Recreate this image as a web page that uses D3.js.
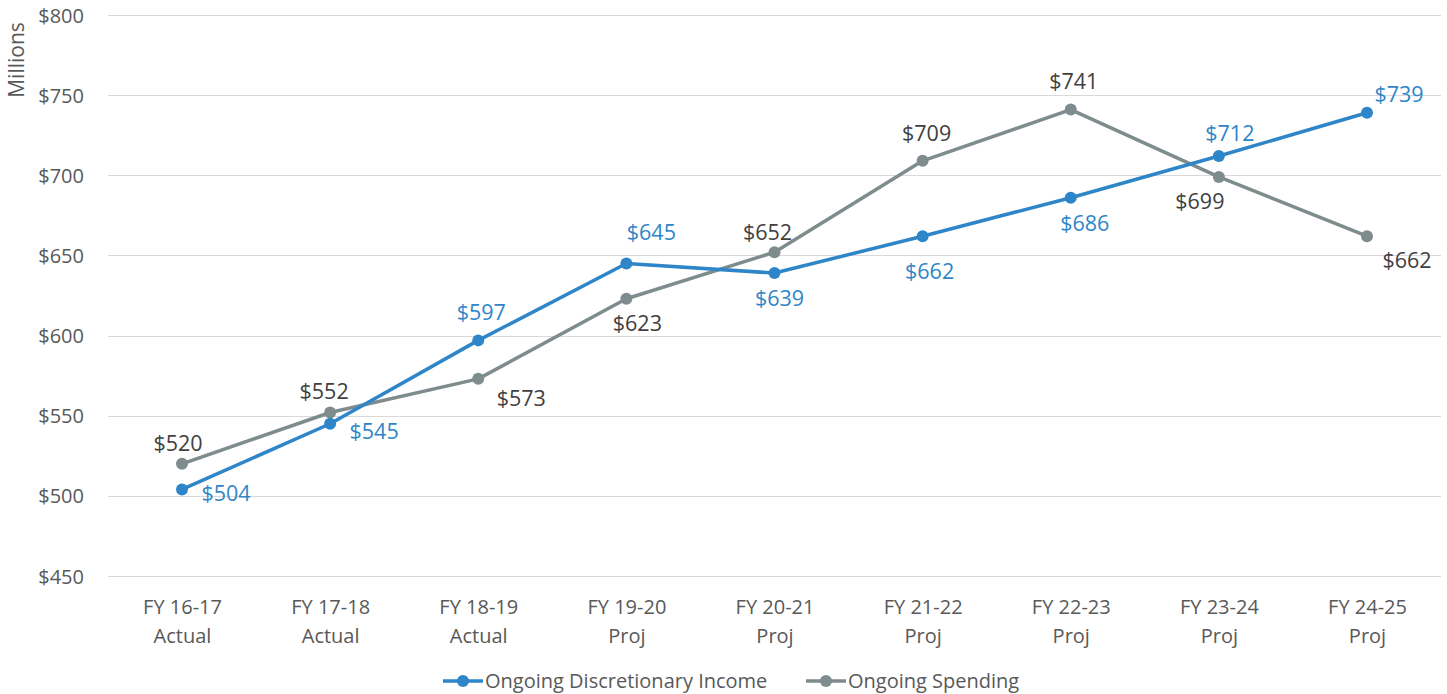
<!DOCTYPE html>
<html>
<head>
<meta charset="utf-8">
<script src="https://cdn.jsdelivr.net/npm/d3@7"></script>
<style>
  html, body { margin: 0; padding: 0; background: #fff; }
  svg { display: block; font-family: "Open Sans", "Noto Sans", sans-serif; }
</style>
</head>
<body>
<svg id="chart" width="1447" height="694"></svg>
<script>
// ---- data ----
const categories = ["FY 16-17|Actual", "FY 17-18|Actual", "FY 18-19|Actual", "FY 19-20|Proj", "FY 20-21|Proj", "FY 21-22|Proj", "FY 22-23|Proj", "FY 23-24|Proj", "FY 24-25|Proj"];
const incomeValues = [504, 545, 597, 645, 639, 662, 686, 712, 739];
const spendingValues = [520, 552, 573, 623, 652, 709, 741, 699, 662];
const yTicks = [450, 500, 550, 600, 650, 700, 750, 800];
const seriesNames = ["Ongoing Discretionary Income", "Ongoing Spending"];

// label offsets (placement style, px from point)
const incomeLabelOffsets = [[44,4],[44,8],[3,-28],[25,-31],[5,25],[7,35],[14,26],[11,-23],[32,-18]];
const spendingLabelOffsets = [[-4,-20],[-6,-21],[43,20],[11,25],[-7,-20],[4,-27],[3,-28],[-19,25],[40,24]];

const colors = ["#2E86C9", "#7F8C8D"];
const labelColors = ["#2E86C9", "#404040"];

const svg = d3.select("#chart");

const x = d3.scalePoint().domain(categories).range([182, 1367]);
const y = d3.scaleLinear().domain([450, 800]).range([576, 15]);

// gridlines
svg.append("g").selectAll("line").data(yTicks).join("line")
  .attr("x1", 108).attr("x2", 1441)
  .attr("y1", d => Math.round(y(d)) + 0.5).attr("y2", d => Math.round(y(d)) + 0.5)
  .attr("stroke", "#d9d9d9").attr("stroke-width", 1);

// y axis labels
const yAxis = d3.axisLeft(y).tickValues(yTicks).tickSize(0).tickPadding(0).tickFormat(d => "$" + d);
const yg = svg.append("g").attr("transform", "translate(84,0)").call(yAxis);
yg.attr("font-family", null).attr("font-size", null);
yg.select(".domain").remove();
yg.selectAll("text").attr("fill", "#595959").style("font-size", "20px").attr("dy", "0.35em");

// y title
svg.append("text")
  .attr("transform", "translate(24,60) rotate(-90)")
  .attr("text-anchor", "middle")
  .attr("fill", "#595959").style("font-size", "21px")
  .text("Millions");

// x axis labels
const xAxis = d3.axisBottom(x).tickSize(0).tickPadding(0).tickFormat(() => "");
const xg = svg.append("g").attr("transform", "translate(0,576)").call(xAxis);
xg.attr("font-family", null).attr("font-size", null);
xg.select(".domain").remove();
xg.selectAll(".tick").each(function(d) {
  const parts = d.split("|");
  const t = d3.select(this).append("text").attr("fill", "#595959").attr("text-anchor", "middle").style("font-size", "20px");
  t.append("tspan").attr("x", 0).attr("y", 38).text(parts[0]);
  t.append("tspan").attr("x", 0).attr("y", 67).text(parts[1]);
});

// series
const series = [
  { name: seriesNames[0], values: incomeValues, offsets: incomeLabelOffsets },
  { name: seriesNames[1], values: spendingValues, offsets: spendingLabelOffsets }
];
const line = d3.line().x((d, i) => x(categories[i])).y(d => y(d));

[1, 0].forEach(si => {
  const s = series[si];
  const g = svg.append("g");
  g.append("path").attr("d", line(s.values)).attr("fill", "none")
    .attr("stroke", colors[si]).attr("stroke-width", 3.5).attr("stroke-linejoin", "round");
  g.selectAll("circle").data(s.values).join("circle")
    .attr("cx", (d, i) => x(categories[i])).attr("cy", d => y(d)).attr("r", 6)
    .attr("fill", colors[si]);
});
[1, 0].forEach(si => {
  const s = series[si];
  svg.append("g").selectAll("text").data(s.values).join("text")
    .attr("x", (d, i) => x(categories[i]) + s.offsets[i][0])
    .attr("y", (d, i) => y(d) + s.offsets[i][1])
    .attr("dy", "0.35em")
    .attr("text-anchor", "middle")
    .attr("fill", labelColors[si])
    .style("font-size", "21.5px")
    .text(d => "$" + d);
});

// legend
const legendItems = [{ x: 443, i: 0 }, { x: 806, i: 1 }];
legendItems.forEach(li => {
  const g = svg.append("g").attr("transform", `translate(${li.x},681)`);
  g.append("line").attr("x1", 0).attr("x2", 40).attr("y1", 0).attr("y2", 0)
    .attr("stroke", colors[li.i]).attr("stroke-width", 3.5);
  g.append("circle").attr("cx", 20).attr("cy", 0).attr("r", 6).attr("fill", colors[li.i]);
  g.append("text").attr("x", 42).attr("y", 0).attr("dy", "0.35em")
    .attr("fill", "#595959").style("font-size", "20px").text(seriesNames[li.i]);
});
</script>
</body>
</html>
